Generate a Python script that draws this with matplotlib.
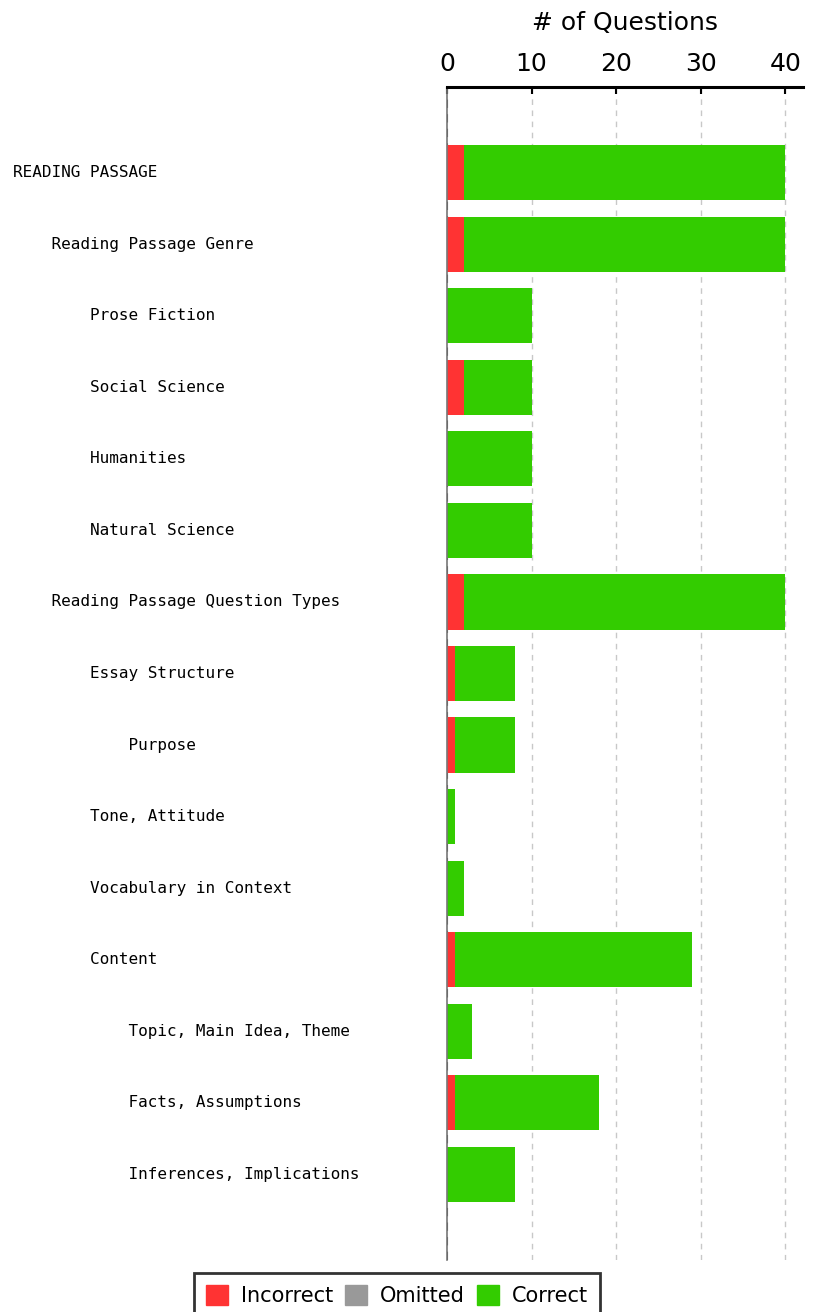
import matplotlib
matplotlib.use("Agg")
import matplotlib.pyplot as plt
from matplotlib.patches import Patch

categories = ["READING PASSAGE", "Reading Passage Genre", "Prose Fiction",
              "Social Science", "Humanities", "Natural Science",
              "Reading Passage Question Types", "Essay Structure", "Purpose",
              "Tone, Attitude", "Vocabulary in Context", "Content",
              "Topic, Main Idea, Theme", "Facts, Assumptions",
              "Inferences, Implications"]
levels = [0, 1, 2, 2, 2, 2, 1, 2, 3, 2, 2, 2, 3, 3, 3]
incorrect = [2, 2, 0, 2, 0, 0, 2, 1, 1, 0, 0, 1, 0, 1, 0]
omitted = [0, 0, 0, 0, 0, 0, 0, 0, 0, 0, 0, 0, 0, 0, 0]
correct = [38, 38, 10, 8, 10, 10, 38, 7, 7, 1, 2, 28, 3, 17, 8]
x_ticks = [0, 10, 20, 30, 40]

red = "#ff3333"
grey = "#999999"
green = "#33cc00"

fig = plt.figure(figsize=(8.18, 13.12), dpi=100)
ax = fig.add_axes([447 / 818, 1 - 1260 / 1312, (803 - 447) / 818, (1260 - 87) / 1312])

y = list(range(len(categories)))
h = 0.77
ax.barh(y, incorrect, height=h, color=red, label="Incorrect")
ax.barh(y, omitted, height=h, left=incorrect, color=grey, label="Omitted")
left3 = [a + b for a, b in zip(incorrect, omitted)]
ax.barh(y, correct, height=h, left=left3, color=green, label="Correct")

ax.set_xlim(0, 42.1)
ax.set_ylim(len(categories) - 1 + 1.2, -1.2)

# grid lines
for t in x_ticks[1:]:
    ax.axvline(t, color="#c8c8c8", linestyle=(0, (4, 4)), linewidth=1, zorder=0)
ax.axvline(0.05, color="#333333", linestyle=(0, (4, 3)), linewidth=1.5, zorder=0)

ax.xaxis.tick_top()
ax.xaxis.set_label_position("top")
ax.set_xticks(x_ticks)
ax.set_xticklabels([str(t) for t in x_ticks], fontsize=18)
ax.tick_params(axis="x", direction="in", length=5, width=1.5, pad=8, colors="black")
ax.set_xlabel("# of Questions", fontsize=18, labelpad=16)
ax.set_yticks([])

for s in ["right", "bottom"]:
    ax.spines[s].set_visible(False)
ax.spines["top"].set_linewidth(2.2)
ax.spines["left"].set_color("#777777")
ax.spines["left"].set_linewidth(1.2)

# indented category labels
for i, (name, lv) in enumerate(zip(categories, levels)):
    ax.text(-434 / 356, i, " " * (4 * lv) + name, family="DejaVu Sans Mono",
            fontsize=11.5, va="center", ha="left",
            transform=ax.get_yaxis_transform())

handles = [Patch(color=red), Patch(color=grey), Patch(color=green)]
leg = fig.legend(handles, ["Incorrect", "Omitted", "Correct"], ncol=3,
                 loc="upper center", bbox_to_anchor=(397 / 818, 1 - 1273 / 1312),
                 fontsize=15, frameon=True, fancybox=False, handlelength=1.05,
                 handleheight=1.05, handletextpad=0.6, columnspacing=0.6,
                 borderpad=0.6, borderaxespad=0)
leg.get_frame().set_edgecolor("black")
leg.get_frame().set_linewidth(2)

fig.savefig("out.png", dpi=100)
